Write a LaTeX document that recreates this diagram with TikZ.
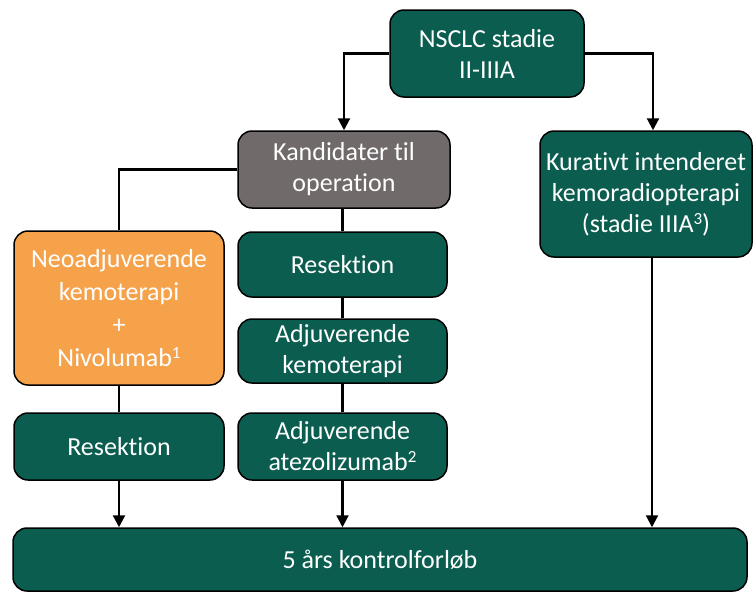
\documentclass[tikz,border=0pt]{standalone}
\usepackage{fontspec}
\setmainfont[Ligatures=NoCommon]{Carlito}
\usetikzlibrary{arrows.meta}
\definecolor{boxgreen}{RGB}{11,94,79}
\definecolor{boxgray}{RGB}{112,106,106}
\definecolor{boxorange}{RGB}{245,162,75}
\newcommand{\supr}[1]{\raisebox{8pt}{\fontsize{17}{17}\selectfont #1}}
\tikzset{
  box/.style={draw=black, line width=1.5pt, rounded corners=14pt, text=white,
    align=center, inner sep=0pt, font=\fontsize{26}{31}\selectfont},
  gbox/.style={box, fill=boxgreen},
  conn/.style={line width=2.2pt, draw=black},
  arr/.style={conn, -{Triangle[length=12pt,width=12pt]}}
}
\begin{document}
\begin{tikzpicture}[x=1pt,y=-1pt]
\useasboundingbox (0,0) rectangle (754,592);
\node[gbox, minimum width=194pt, minimum height=87pt] (nscl) at (487,53.5) {NSCLC stadie\\II-IIIA};
\node[box, fill=boxgray, minimum width=212pt, minimum height=77pt] (kand) at (344,169.5) {Kandidater til\\operation};
\node[gbox, minimum width=212pt, minimum height=126pt] (kur) at (646,194) {Kurativt intenderet\\kemoradiopterapi\\(stadie IIIA\supr{3})};
\node[box, fill=boxorange, minimum width=210pt, minimum height=154pt, font=\fontsize{26}{33}\selectfont] (neo) at (119,308) {Neoadjuverende\\kemoterapi\\+\\Nivolumab\supr{1}};
\node[gbox, minimum width=209pt, minimum height=65pt] (res1) at (342.5,264.5) {Resektion};
\node[gbox, minimum width=209pt, minimum height=64pt] (adjk) at (342.5,351) {Adjuverende\\kemoterapi};
\node[gbox, minimum width=210pt, minimum height=67pt] (res2) at (119,446.5) {Resektion};
\node[gbox, minimum width=209pt, minimum height=67pt] (atez) at (342.5,446.5) {Adjuverende\\atezolizumab\supr{2}};
\node[gbox, minimum width=734pt, minimum height=63pt] (kont) at (380,559.5) {5 års kontrolforløb};
\coordinate (kurin) at ([xshift=7pt]kur.north);
\coordinate (kurout) at ([xshift=6pt]kur.south);
\draw[arr] (nscl.west) -| (kand.north);
\draw[arr] (nscl.east) -| (kurin);
\draw[conn] (kand.west) -| (neo.north);
\draw[conn] (res1.north |- kand.south) -- (res1.north);
\draw[conn] (res1.south) -- (adjk.north);
\draw[conn] (adjk.south) -- (atez.north);
\draw[conn] (neo.south) -- (res2.north);
\draw[arr] (res2.south) -- (res2.south |- kont.north);
\draw[arr] (atez.south) -- (atez.south |- kont.north);
\draw[arr] (kurout) -- (kurout |- kont.north);
\end{tikzpicture}
\end{document}
